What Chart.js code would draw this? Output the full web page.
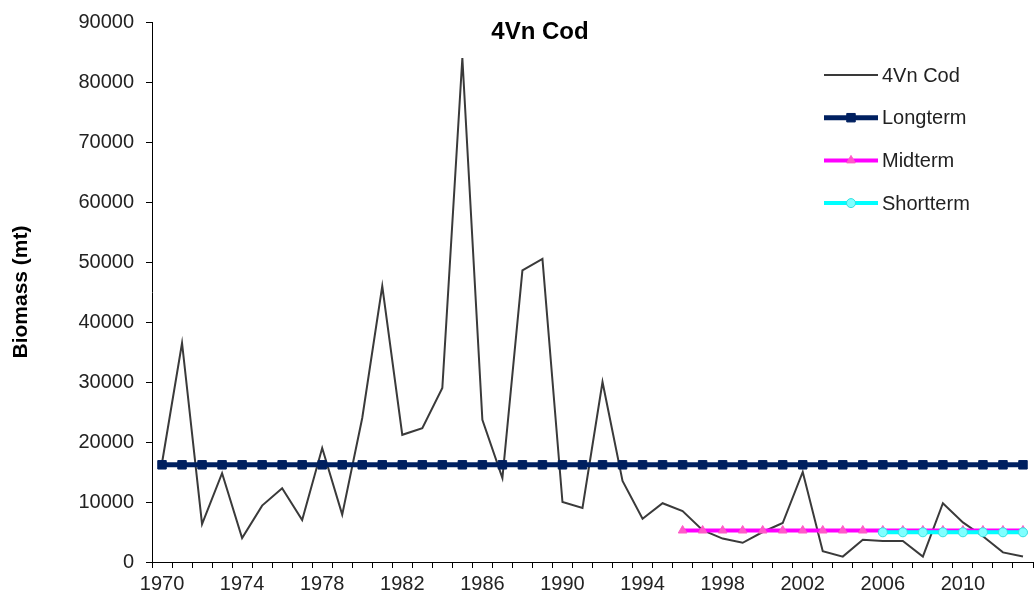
<!DOCTYPE html>
<html>
<head>
<meta charset="utf-8">
<title>4Vn Cod</title>
<script src="https://cdn.jsdelivr.net/npm/chart.js@4.4.1/dist/chart.umd.min.js"></script>
<style>
  html, body { margin: 0; padding: 0; background: #fff; overflow: hidden; }
  #wrap { width: 1034px; height: 600px; overflow: hidden; }
  canvas { display: block; }
</style>
</head>
<body>
<div id="wrap"><canvas id="grafico" width="1040" height="600"></canvas></div>
<script>
// Anos (categorias do eixo x)
const anos = [
  "1970", "1971", "1972", "1973", "1974", "1975", "1976", "1977", "1978", "1979",
  "1980", "1981", "1982", "1983", "1984", "1985", "1986", "1987", "1988", "1989",
  "1990", "1991", "1992", "1993", "1994", "1995", "1996", "1997", "1998", "1999",
  "2000", "2001", "2002", "2003", "2004", "2005", "2006", "2007", "2008", "2009",
  "2010", "2011", "2012", "2013"
];

// Biomassa 4Vn Cod (mt)
const biomassaCod = [
  16500, 36500, 6300, 14800, 4000, 9400, 12300, 7000, 19000, 7900,
  24000, 46000, 21200, 22300, 29000, 84000, 23700, 14000, 48600, 50500,
  10000, 9000, 30000, 13500, 7200, 9800, 8500, 5300, 3900, 3200,
  5000, 6500, 15000, 1800, 900, 3700, 3500, 3500, 900, 9800,
  6600, 4300, 1600, 900
];

// Médias de longo, médio e curto prazo
const longterm = [
  16200, 16200, 16200, 16200, 16200, 16200, 16200, 16200, 16200, 16200,
  16200, 16200, 16200, 16200, 16200, 16200, 16200, 16200, 16200, 16200,
  16200, 16200, 16200, 16200, 16200, 16200, 16200, 16200, 16200, 16200,
  16200, 16200, 16200, 16200, 16200, 16200, 16200, 16200, 16200, 16200,
  16200, 16200, 16200, 16200
];

const midterm = [
  null, null, null, null, null, null, null, null, null, null,
  null, null, null, null, null, null, null, null, null, null,
  null, null, null, null, null, null, 5250, 5250, 5250, 5250,
  5250, 5250, 5250, 5250, 5250, 5250, 5250, 5250, 5250, 5250,
  5250, 5250, 5250, 5250
];

const shortterm = [
  null, null, null, null, null, null, null, null, null, null,
  null, null, null, null, null, null, null, null, null, null,
  null, null, null, null, null, null, null, null, null, null,
  null, null, null, null, null, null, 4950, 4950, 4950, 4950,
  4950, 4950, 4950, 4950
];

// Ticks do eixo y
const yMin = 0;
const yMax = 90000;
const yPasso = 10000;

const FONTE = "'Liberation Sans', Arial, sans-serif";
Chart.defaults.font.family = FONTE;
Chart.defaults.color = "#222";

// Título desenhado dentro da área do gráfico (como no Excel)
const tituloPlugin = {
  id: "tituloInterno",
  afterDraw(chart) {
    const ctx = chart.ctx;
    ctx.save();
    ctx.font = "bold 24px " + FONTE;
    ctx.fillStyle = "#000";
    ctx.textAlign = "center";
    ctx.textBaseline = "middle";
    ctx.fillText("4Vn Cod", 540, 32);
    ctx.restore();
  }
};

// Legenda com linha + marcador
const legendaPlugin = {
  id: "legendaInterna",
  afterDraw(chart) {
    const ctx = chart.ctx;
    ctx.save();
    chart.data.datasets.forEach((ds, i) => {
      const y = 75 + i * 42.7;
      ctx.strokeStyle = ds.borderColor;
      ctx.lineWidth = ds.borderWidth;
      ctx.beginPath();
      ctx.moveTo(824, y);
      ctx.lineTo(878, y);
      ctx.stroke();
      if (ds.pointRadius > 0) {
        ctx.fillStyle = ds.pointBackgroundColor;
        ctx.strokeStyle = ds.pointBorderColor;
        ctx.lineWidth = ds.pointBorderWidth;
        Chart.helpers.drawPoint(ctx, {
          pointStyle: ds.pointStyle,
          radius: ds.pointRadius,
          borderWidth: ds.pointBorderWidth,
          rotation: 0
        }, 851, y);
      }
      ctx.fillStyle = "#222";
      ctx.font = "20px " + FONTE;
      ctx.textAlign = "left";
      ctx.textBaseline = "middle";
      ctx.fillText(ds.label, 882, y + 1);
    });
    ctx.restore();
  }
};

function gerarGrafico() {
  const ctx = document.getElementById("grafico").getContext("2d");
  new Chart(ctx, {
    type: "line",
    data: {
      labels: anos,
      datasets: [
        {
          label: "4Vn Cod",
          data: biomassaCod,
          borderColor: "#3a3a3a",
          borderWidth: 2,
          pointRadius: 0,
          tension: 0,
          order: 4
        },
        {
          label: "Longterm",
          data: longterm,
          borderColor: "#002060",
          borderWidth: 5,
          pointStyle: "rect",
          pointRadius: 6,
          pointBorderWidth: 1,
          pointBackgroundColor: "#002060",
          pointBorderColor: "#002060",
          order: 3
        },
        {
          label: "Midterm",
          data: midterm,
          borderColor: "#FF00FF",
          borderWidth: 4,
          pointStyle: "triangle",
          pointRadius: 5,
          pointBorderWidth: 1,
          pointBackgroundColor: "#FF5AC8",
          pointBorderColor: "#FF5AC8",
          order: 2
        },
        {
          label: "Shortterm",
          data: shortterm,
          borderColor: "#00FFFF",
          borderWidth: 4,
          pointStyle: "circle",
          pointRadius: 4.5,
          pointBorderWidth: 1,
          pointBackgroundColor: "#7FFFFF",
          pointBorderColor: "#33E0E0",
          order: 1
        }
      ]
    },
    options: {
      responsive: false,
      animation: false,
      devicePixelRatio: 1,
      layout: {
        padding: { left: 0, right: 4, top: 7, bottom: 0 }
      },
      plugins: {
        legend: { display: false },
        title: { display: false },
        tooltip: { enabled: false }
      },
      scales: {
        x: {
          type: "category",
          offset: true,
          afterFit: (scale) => { scale.height = 38; },
          grid: {
            display: true,
            offset: true,
            drawOnChartArea: false,
            drawTicks: true,
            tickLength: 6,
            color: "#000"
          },
          border: { display: true, color: "#000", width: 1 },
          ticks: {
            autoSkip: false,
            maxRotation: 0,
            padding: 4,
            font: { size: 20 },
            color: "#222",
            callback: function (valor, indice) {
              const ano = parseInt(anos[indice], 10);
              return (ano - 1970) % 4 === 0 ? anos[indice] : "";
            }
          }
        },
        y: {
          min: yMin,
          max: yMax,
          afterFit: (scale) => { scale.width = 152; },
          grid: {
            display: true,
            drawOnChartArea: false,
            drawTicks: true,
            tickLength: 6,
            color: "#000"
          },
          border: { display: true, color: "#000", width: 1 },
          ticks: {
            stepSize: yPasso,
            padding: 12,
            font: { size: 20, lineHeight: 1 },
            color: "#222",
            callback: (valor) => String(valor)
          },
          title: {
            display: true,
            text: "Biomass (mt)",
            font: { size: 21, weight: "bold" },
            color: "#000",
            padding: { top: 9, bottom: 0 }
          }
        }
      }
    },
    plugins: [tituloPlugin, legendaPlugin]
  });
}

document.addEventListener("DOMContentLoaded", gerarGrafico);
</script>
</body>
</html>
